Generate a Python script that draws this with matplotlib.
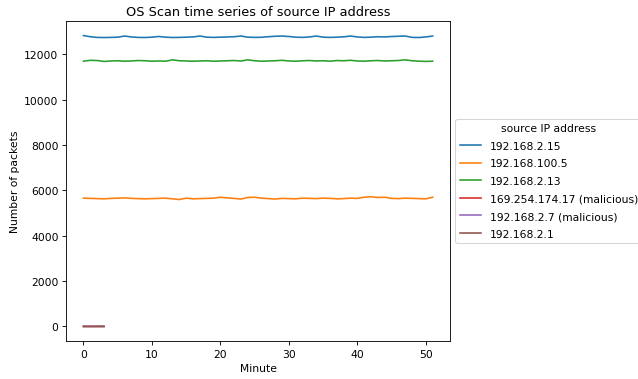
import matplotlib
matplotlib.use("Agg")
import matplotlib.pyplot as plt

minutes = list(range(52))

ip_15 = [12830, 12780, 12750, 12745, 12750, 12760, 12810, 12770, 12750, 12745,
         12760, 12790, 12760, 12745, 12750, 12760, 12770, 12810, 12760, 12750,
         12760, 12770, 12780, 12810, 12760, 12750, 12755, 12780, 12800, 12810,
         12790, 12760, 12750, 12770, 12810, 12760, 12750, 12760, 12775, 12810,
         12770, 12750, 12760, 12780, 12770, 12790, 12800, 12810, 12750, 12745,
         12770, 12810]
ip_100_5 = [5660, 5650, 5640, 5630, 5650, 5660, 5670, 5650, 5640, 5630,
            5640, 5650, 5660, 5630, 5600, 5660, 5630, 5640, 5650, 5660,
            5700, 5670, 5650, 5620, 5690, 5700, 5660, 5640, 5620, 5650,
            5640, 5630, 5660, 5650, 5640, 5660, 5650, 5630, 5640, 5660,
            5650, 5700, 5720, 5690, 5700, 5650, 5640, 5660, 5650, 5640,
            5630, 5700]
ip_2_13 = [11700, 11740, 11730, 11690, 11710, 11720, 11700, 11710, 11730, 11720,
           11700, 11710, 11700, 11760, 11720, 11710, 11700, 11710, 11720, 11700,
           11710, 11720, 11730, 11710, 11760, 11720, 11700, 11710, 11720, 11740,
           11710, 11700, 11720, 11730, 11710, 11720, 11700, 11730, 11720, 11740,
           11710, 11700, 11720, 11730, 11710, 11720, 11730, 11760, 11720, 11700,
           11690, 11700]
ip_254_174_17 = [3, 2, 4, 3]
ip_2_7 = [1, 2, 1, 2]
ip_2_1 = [2, 1, 3, 2]

series = [
    ("192.168.2.15", minutes, ip_15),
    ("192.168.100.5", minutes, ip_100_5),
    ("192.168.2.13", minutes, ip_2_13),
    ("169.254.174.17 (malicious)", minutes[:4], ip_254_174_17),
    ("192.168.2.7 (malicious)", minutes[:4], ip_2_7),
    ("192.168.2.1", minutes[:4], ip_2_1),
]

DPI = 77.4
fig = plt.figure(figsize=(638 / DPI, 380 / DPI), dpi=DPI)
ax = fig.add_axes([0.1035, 0.10, 0.602, 0.842])

for name, xs, ys in series:
    ax.plot(xs, ys, label=name)

ax.set_title("OS Scan time series of source IP address")
ax.set_xlabel("Minute")
ax.set_ylabel("Number of packets")
ax.legend(title="source IP address", loc="center left",
          bbox_to_anchor=(1.0, 0.5), labelspacing=0.7)

fig.savefig("out.png", dpi=DPI)
